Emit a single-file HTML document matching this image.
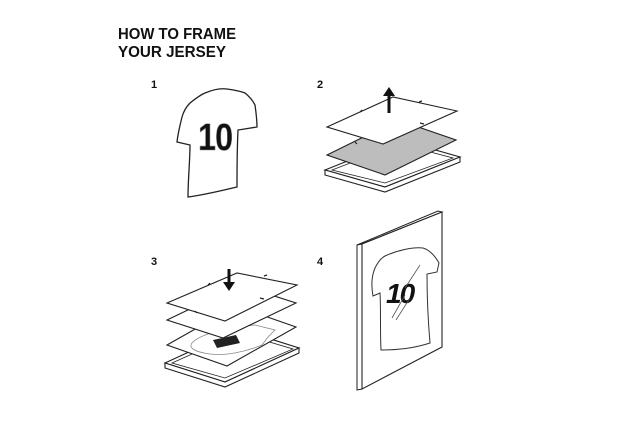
<!DOCTYPE html>
<html><head><style>
html,body{margin:0;padding:0;background:#fff;}
svg{display:block;}
text{font-family:"Liberation Sans",sans-serif;font-weight:bold;fill:#111;}
</style></head><body>
<svg width="618" height="446" viewBox="0 0 618 446" xmlns="http://www.w3.org/2000/svg">
<rect width="618" height="446" fill="#fff"/>
<text x="118" y="39" font-size="15.5" textLength="118" lengthAdjust="spacingAndGlyphs">HOW TO FRAME</text>
<text x="118" y="57" font-size="15.5" textLength="108" lengthAdjust="spacingAndGlyphs">YOUR JERSEY</text>
<text x="151" y="88" font-size="11">1</text>
<text x="317" y="88" font-size="11">2</text>
<text x="151" y="265" font-size="11">3</text>
<text x="317" y="265" font-size="11">4</text>

<!-- Step 1 shirt -->
<path d="M205,93 C212,90 220,88 227,89 C234,90 240,91 245,93 C250,97 253,101 255,105 C256,112 257,120 257,127 L238,130 C237,150 237,170 237,187 C220,191 204,195 188,197 C188,180 190,160 190,145 L177,142 C178,133 180,125 182,117 C184,110 187,106 190,103 C195,99 200,95 205,93 Z" fill="none" stroke="#222" stroke-width="1.3"/>
<text x="198" y="150" font-size="38" transform="translate(198,150) scale(0.85,1) translate(-198,-150)" fill="#222" stroke="#888" stroke-width="0.6" letter-spacing="-1">10</text>

<!-- Step 2 -->
<polygon points="325,170 400,140 460,157 385,187" fill="#fff" stroke="#222" stroke-width="1.1"/>
<polygon points="325,170 325,175 385,192 460,162 460,157 385,187" fill="#fff" stroke="#222" stroke-width="1.1"/>
<polygon points="332,170 400,144 453,158 385,183" fill="none" stroke="#222" stroke-width="0.8"/>
<polygon points="327,155 398,120 456,140 385,175" fill="#bdbdbd" stroke="#222" stroke-width="1.1"/>
<polygon points="327,127 393,97 457,111 383,144" fill="#fff" stroke="#222" stroke-width="1.1"/>
<path d="M360,112 l2,-2 M419,102 l3,-1 M355,142 l2,2 M420,123 l4,1" stroke="#222" stroke-width="1.2"/>
<path d="M389,113 L389,94" stroke="#111" stroke-width="3"/>
<polygon points="389,87 395,96 383,96" fill="#111"/>

<!-- Step 3 -->
<polygon points="165,363 239,329 299,348 225,382" fill="#fff" stroke="#222" stroke-width="1.1"/>
<polygon points="165,363 165,368 225,387 299,353 299,348 225,382" fill="#fff" stroke="#222" stroke-width="1.1"/>
<polygon points="172,363 239,333 293,349 225,378" fill="none" stroke="#222" stroke-width="0.8"/>
<polygon points="167,345 236,306 296,327 227,366" fill="#fff" stroke="#222" stroke-width="1.1"/>
<path d="M192,343 C200,334 225,328 255,325 L275,330 L268,337 L262,345 C245,352 225,356 210,354 C195,352 188,348 192,343 Z" fill="none" stroke="#888" stroke-width="0.8"/>
<path d="M213,340 L236,335 L240,343 L217,348 Z" fill="#222"/>
<polygon points="167,320 240,285 296,303 223,338" fill="#fff" stroke="#222" stroke-width="1.1"/>
<polygon points="167,303 237,273 297,285 225,321" fill="#fff" stroke="#222" stroke-width="1.1"/>
<path d="M208,285 l2,-2 M264,276 l3,-1 M195,311 l2,2 M260,298 l4,1" stroke="#222" stroke-width="1.2"/>
<path d="M229,269 L229,283" stroke="#111" stroke-width="3"/>
<polygon points="229,291 223,282 235,282" fill="#111"/>

<!-- Step 4 -->
<polygon points="357,245 438,211 442,212 362,244" fill="#fff" stroke="#222" stroke-width="1"/>
<polygon points="357,245 362,244 362,389 357,390" fill="#fff" stroke="#222" stroke-width="1"/>
<polygon points="362,244 442,212 442,347 362,389" fill="#fff" stroke="#222" stroke-width="1.1"/>
<path d="M385,256 C398,250 413,247 423,248 C430,250 435,256 439,263 L437,272 L427,274 C427,298 428,320 430,343 C415,348 400,350 381,350 C380,330 381,310 380,293 L373,296 C371,285 372,275 375,268 C378,262 381,258 385,256 Z" fill="none" stroke="#333" stroke-width="1"/>
<text x="386" y="303" font-size="28" font-style="italic" letter-spacing="-2" fill="#222">10</text>
<path d="M392,318 L405,295 M396,320 L410,298 M405,288 L420,265" stroke="#555" stroke-width="0.8"/>
</svg>
</body></html>
